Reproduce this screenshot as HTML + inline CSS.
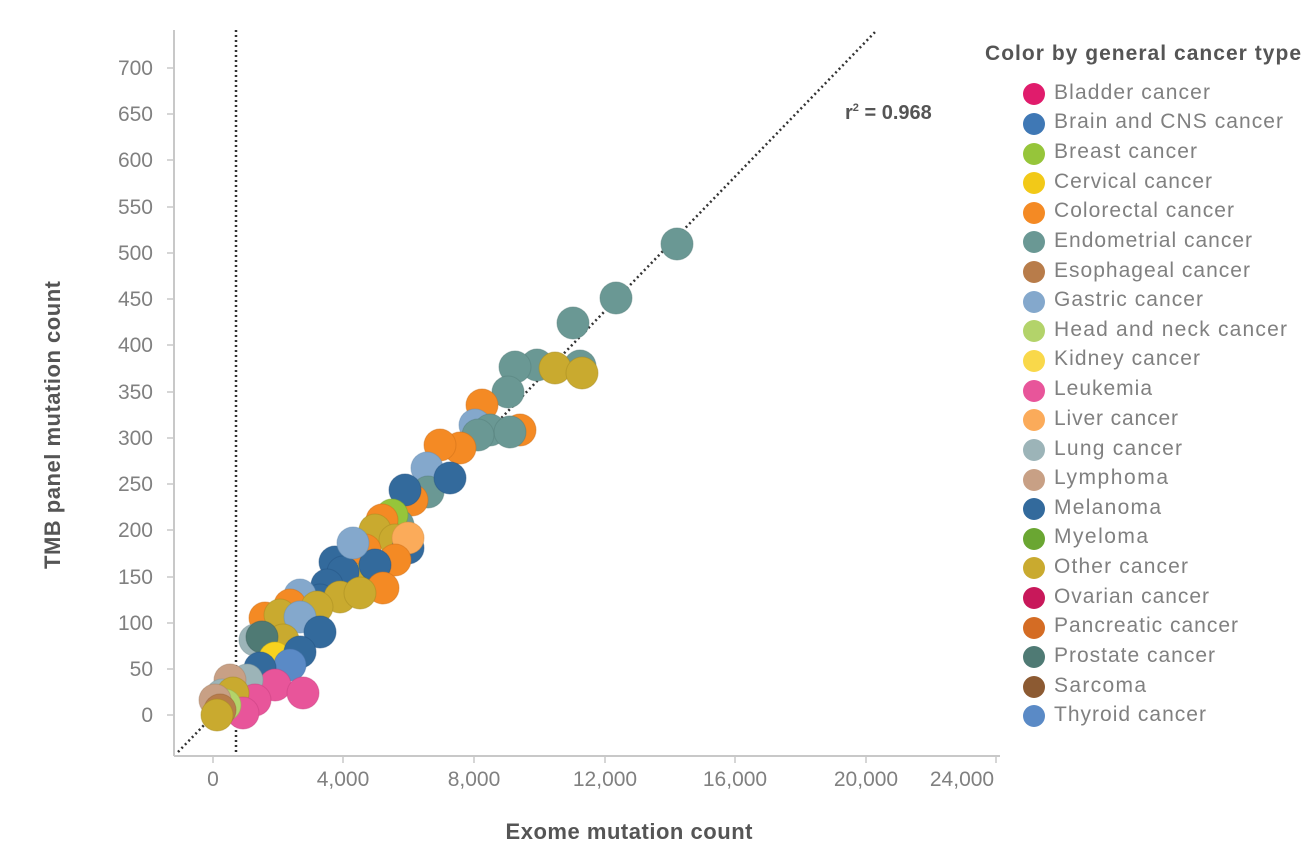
<!DOCTYPE html>
<html><head><meta charset="utf-8"><style>
html,body{margin:0;padding:0;background:#fff;}
svg{display:block;font-family:"Liberation Sans",sans-serif;}
</style></head><body>
<svg width="1310" height="850" viewBox="0 0 1310 850" xmlns="http://www.w3.org/2000/svg">
<g stroke="#c8c8c8" stroke-width="2" fill="none">
<line x1="174" y1="30" x2="174" y2="756"/>
<line x1="174" y1="756" x2="1000" y2="756"/>
</g>
<g stroke="#c8c8c8" stroke-width="1.5">
<line x1="167" y1="715" x2="174" y2="715"/><line x1="167" y1="669" x2="174" y2="669"/><line x1="167" y1="623" x2="174" y2="623"/><line x1="167" y1="577" x2="174" y2="577"/><line x1="167" y1="530" x2="174" y2="530"/><line x1="167" y1="484" x2="174" y2="484"/><line x1="167" y1="438" x2="174" y2="438"/><line x1="167" y1="392" x2="174" y2="392"/><line x1="167" y1="345" x2="174" y2="345"/><line x1="167" y1="299" x2="174" y2="299"/><line x1="167" y1="253" x2="174" y2="253"/><line x1="167" y1="207" x2="174" y2="207"/><line x1="167" y1="160" x2="174" y2="160"/><line x1="167" y1="114" x2="174" y2="114"/><line x1="167" y1="68" x2="174" y2="68"/>
<line x1="213" y1="756" x2="213" y2="763"/><line x1="343" y1="756" x2="343" y2="763"/><line x1="474" y1="756" x2="474" y2="763"/><line x1="605" y1="756" x2="605" y2="763"/><line x1="735" y1="756" x2="735" y2="763"/><line x1="866" y1="756" x2="866" y2="763"/><line x1="996" y1="756" x2="996" y2="763"/>
</g>
<g fill="#808080" font-size="21" text-anchor="end">
<text x="153" y="722">0</text><text x="153" y="676">50</text><text x="153" y="630">100</text><text x="153" y="584">150</text><text x="153" y="537">200</text><text x="153" y="491">250</text><text x="153" y="445">300</text><text x="153" y="399">350</text><text x="153" y="352">400</text><text x="153" y="306">450</text><text x="153" y="260">500</text><text x="153" y="214">550</text><text x="153" y="167">600</text><text x="153" y="121">650</text><text x="153" y="75">700</text>
</g>
<g fill="#808080" font-size="21" text-anchor="middle">
<text x="213" y="786">0</text><text x="343" y="786">4,000</text><text x="474" y="786">8,000</text><text x="605" y="786">12,000</text><text x="735" y="786">16,000</text><text x="866" y="786">20,000</text><text x="962" y="786">24,000</text>
</g>
<text x="629" y="839" fill="#555" font-size="22" font-weight="bold" text-anchor="middle" textLength="247">Exome mutation count</text>
<text transform="translate(60,425) rotate(-90)" fill="#555" font-size="22" font-weight="bold" text-anchor="middle" textLength="288">TMB panel mutation count</text>
<text x="845" y="119" fill="#555" font-size="20" font-weight="bold">r<tspan font-size="11" dy="-8">2</tspan><tspan dy="8"> = 0.968</tspan></text>
<g stroke="#333" stroke-width="2.5" stroke-dasharray="2,3" fill="none">
<line x1="178" y1="752" x2="877" y2="30"/>
<line x1="236" y1="30" x2="236" y2="752"/>
</g>
<g stroke-opacity="0.5" stroke-width="1">
<circle cx="677" cy="244" r="16" fill="#6a9894" stroke="#55807c"/>
<circle cx="616" cy="298" r="16" fill="#6a9894" stroke="#55807c"/>
<circle cx="573" cy="323" r="16" fill="#6a9894" stroke="#55807c"/>
<circle cx="580" cy="366" r="16" fill="#6a9894" stroke="#55807c"/>
<circle cx="537" cy="365" r="16" fill="#6a9894" stroke="#55807c"/>
<circle cx="515" cy="367" r="16" fill="#6a9894" stroke="#55807c"/>
<circle cx="555" cy="368" r="16" fill="#c9aa2f" stroke="#a88c20"/>
<circle cx="582" cy="373" r="16" fill="#c9aa2f" stroke="#a88c20"/>
<circle cx="508" cy="392" r="16" fill="#6a9894" stroke="#55807c"/>
<circle cx="482" cy="405" r="16" fill="#f48a24" stroke="#d07018"/>
<circle cx="520" cy="430" r="16" fill="#f48a24" stroke="#d07018"/>
<circle cx="475" cy="425" r="16" fill="#84a8cc" stroke="#6a8fb3"/>
<circle cx="490" cy="430" r="16" fill="#6a9894" stroke="#55807c"/>
<circle cx="510" cy="432" r="16" fill="#6a9894" stroke="#55807c"/>
<circle cx="478" cy="435" r="16" fill="#6a9894" stroke="#55807c"/>
<circle cx="460" cy="448" r="16" fill="#f48a24" stroke="#d07018"/>
<circle cx="440" cy="445" r="16" fill="#f48a24" stroke="#d07018"/>
<circle cx="427" cy="468" r="16" fill="#84a8cc" stroke="#6a8fb3"/>
<circle cx="428" cy="492" r="16" fill="#6a9894" stroke="#55807c"/>
<circle cx="450" cy="478" r="16" fill="#336a9c" stroke="#245383"/>
<circle cx="412" cy="500" r="16" fill="#f48a24" stroke="#d07018"/>
<circle cx="405" cy="490" r="16" fill="#336a9c" stroke="#245383"/>
<circle cx="398" cy="525" r="16" fill="#6a9894" stroke="#55807c"/>
<circle cx="392" cy="515" r="16" fill="#96c53a" stroke="#7aa62a"/>
<circle cx="382" cy="520" r="16" fill="#f48a24" stroke="#d07018"/>
<circle cx="375" cy="530" r="16" fill="#c9aa2f" stroke="#a88c20"/>
<circle cx="395" cy="540" r="16" fill="#c9aa2f" stroke="#a88c20"/>
<circle cx="408" cy="548" r="16" fill="#336a9c" stroke="#245383"/>
<circle cx="408" cy="538" r="16" fill="#fbab5a" stroke="#d88e40"/>
<circle cx="395" cy="560" r="16" fill="#f48a24" stroke="#d07018"/>
<circle cx="365" cy="550" r="16" fill="#f48a24" stroke="#d07018"/>
<circle cx="370" cy="575" r="16" fill="#c9aa2f" stroke="#a88c20"/>
<circle cx="335" cy="562" r="16" fill="#336a9c" stroke="#245383"/>
<circle cx="375" cy="565" r="16" fill="#336a9c" stroke="#245383"/>
<circle cx="343" cy="572" r="16" fill="#336a9c" stroke="#245383"/>
<circle cx="353" cy="543" r="16" fill="#84a8cc" stroke="#6a8fb3"/>
<circle cx="383" cy="588" r="16" fill="#f48a24" stroke="#d07018"/>
<circle cx="327" cy="585" r="16" fill="#336a9c" stroke="#245383"/>
<circle cx="320" cy="600" r="16" fill="#336a9c" stroke="#245383"/>
<circle cx="300" cy="595" r="16" fill="#84a8cc" stroke="#6a8fb3"/>
<circle cx="340" cy="597" r="16" fill="#c9aa2f" stroke="#a88c20"/>
<circle cx="360" cy="593" r="16" fill="#c9aa2f" stroke="#a88c20"/>
<circle cx="290" cy="605" r="16" fill="#f48a24" stroke="#d07018"/>
<circle cx="265" cy="618" r="16" fill="#f48a24" stroke="#d07018"/>
<circle cx="280" cy="615" r="16" fill="#c9aa2f" stroke="#a88c20"/>
<circle cx="317" cy="607" r="16" fill="#c9aa2f" stroke="#a88c20"/>
<circle cx="300" cy="617" r="16" fill="#84a8cc" stroke="#6a8fb3"/>
<circle cx="320" cy="632" r="16" fill="#336a9c" stroke="#245383"/>
<circle cx="255" cy="640" r="16" fill="#9cb4b8" stroke="#80989c"/>
<circle cx="283" cy="640" r="16" fill="#c9aa2f" stroke="#a88c20"/>
<circle cx="262" cy="637" r="16" fill="#4f7a74" stroke="#3e625d"/>
<circle cx="275" cy="658" r="16" fill="#f7d21e" stroke="#d4b010"/>
<circle cx="300" cy="652" r="16" fill="#336a9c" stroke="#245383"/>
<circle cx="290" cy="665" r="16" fill="#5a8ac6" stroke="#4672aa"/>
<circle cx="260" cy="668" r="16" fill="#336a9c" stroke="#245383"/>
<circle cx="275" cy="685" r="16" fill="#e8559a" stroke="#c84080"/>
<circle cx="247" cy="680" r="16" fill="#9cb4b8" stroke="#80989c"/>
<circle cx="230" cy="680" r="16" fill="#c8a085" stroke="#a8846a"/>
<circle cx="303" cy="693" r="16" fill="#e8559a" stroke="#c84080"/>
<circle cx="255" cy="700" r="16" fill="#e8559a" stroke="#c84080"/>
<circle cx="222" cy="695" r="16" fill="#9cb4b8" stroke="#80989c"/>
<circle cx="233" cy="693" r="16" fill="#c9aa2f" stroke="#a88c20"/>
<circle cx="243" cy="713" r="16" fill="#e8559a" stroke="#c84080"/>
<circle cx="225" cy="705" r="16" fill="#b3d36a" stroke="#95b350"/>
<circle cx="215" cy="700" r="16" fill="#c8a085" stroke="#a8846a"/>
<circle cx="220" cy="710" r="16" fill="#b87c4a" stroke="#9a6436"/>
<circle cx="217" cy="715" r="16" fill="#c9aa2f" stroke="#a88c20"/>
</g>
<text x="985" y="60" fill="#555" font-size="21" font-weight="bold" textLength="316">Color by general cancer type</text>
<g font-size="21" fill="#808080">
<circle cx="1034" cy="94" r="11" fill="#e01c6c"/><text x="1054" y="99" textLength="156">Bladder cancer</text>
<circle cx="1034" cy="124" r="11" fill="#3f78b5"/><text x="1054" y="128" textLength="229">Brain and CNS cancer</text>
<circle cx="1034" cy="154" r="11" fill="#96c53a"/><text x="1054" y="158" textLength="143">Breast cancer</text>
<circle cx="1034" cy="183" r="11" fill="#f2c918"/><text x="1054" y="188" textLength="158">Cervical cancer</text>
<circle cx="1034" cy="213" r="11" fill="#f48a24"/><text x="1054" y="217" textLength="180">Colorectal cancer</text>
<circle cx="1034" cy="242" r="11" fill="#6a9894"/><text x="1054" y="247" textLength="198">Endometrial cancer</text>
<circle cx="1034" cy="272" r="11" fill="#b87c4a"/><text x="1054" y="277" textLength="196">Esophageal cancer</text>
<circle cx="1034" cy="302" r="11" fill="#84a8cc"/><text x="1054" y="306" textLength="149">Gastric cancer</text>
<circle cx="1034" cy="331" r="11" fill="#b3d36a"/><text x="1054" y="336" textLength="233">Head and neck cancer</text>
<circle cx="1034" cy="361" r="11" fill="#f9d84a"/><text x="1054" y="365" textLength="146">Kidney cancer</text>
<circle cx="1034" cy="391" r="11" fill="#e8559a"/><text x="1054" y="395" textLength="98">Leukemia</text>
<circle cx="1034" cy="420" r="11" fill="#fbab5a"/><text x="1054" y="425" textLength="124">Liver cancer</text>
<circle cx="1034" cy="450" r="11" fill="#9cb4b8"/><text x="1054" y="455" textLength="128">Lung cancer</text>
<circle cx="1034" cy="480" r="11" fill="#c8a085"/><text x="1054" y="484" textLength="114">Lymphoma</text>
<circle cx="1034" cy="509" r="11" fill="#336a9c"/><text x="1054" y="514" textLength="107">Melanoma</text>
<circle cx="1034" cy="539" r="11" fill="#6aa632"/><text x="1054" y="543" textLength="94">Myeloma</text>
<circle cx="1034" cy="568" r="11" fill="#c9aa2f"/><text x="1054" y="573" textLength="134">Other cancer</text>
<circle cx="1034" cy="598" r="11" fill="#c8185a"/><text x="1054" y="603" textLength="155">Ovarian cancer</text>
<circle cx="1034" cy="628" r="11" fill="#d46c24"/><text x="1054" y="632" textLength="184">Pancreatic cancer</text>
<circle cx="1034" cy="657" r="11" fill="#4f7a74"/><text x="1054" y="662" textLength="161">Prostate cancer</text>
<circle cx="1034" cy="687" r="11" fill="#8c5a32"/><text x="1054" y="692" textLength="92">Sarcoma</text>
<circle cx="1034" cy="716" r="11" fill="#5a8ac6"/><text x="1054" y="721" textLength="152">Thyroid cancer</text>
</g>
</svg>
</body></html>
